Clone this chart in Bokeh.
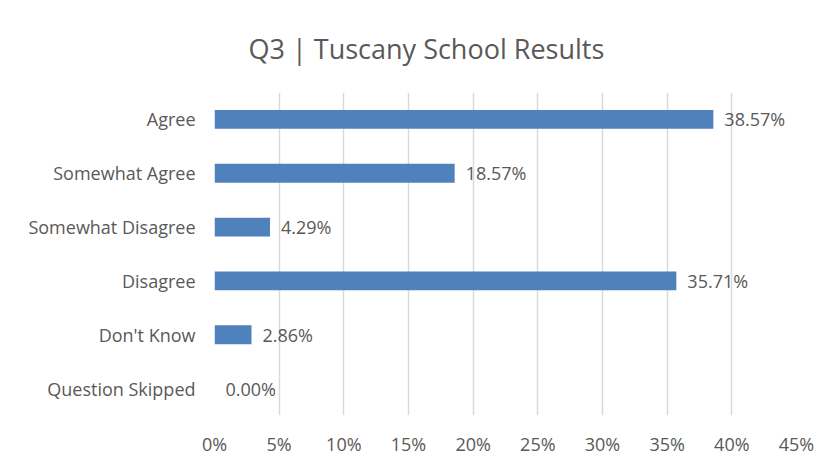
from bokeh.plotting import figure
from bokeh.models import ColumnDataSource, NumeralTickFormatter, FixedTicker
from bokeh.core.properties import value
from bokeh.embed import file_html
from bokeh.resources import INLINE

categories = ["Agree", "Somewhat Agree", "Somewhat Disagree", "Disagree", "Don't Know", "Question Skipped"]
values = [0.3857, 0.1857, 0.0429, 0.3571, 0.0286, 0.0]
labels = ["38.57%", "18.57%", "4.29%", "35.71%", "2.86%", "0.00%"]
x_ticks = [0, 0.05, 0.10, 0.15, 0.20, 0.25, 0.30, 0.35, 0.40, 0.45]

FONT = "Open Sans"
TXT = "#595959"

src = ColumnDataSource(dict(cat=categories, val=values, lab=labels))

p = figure(
    width=838, height=465,
    y_range=list(reversed(categories)),
    x_range=(0, 0.45),
    output_backend="svg", toolbar_location=None,
    min_border_left=214, min_border_right=42,
    min_border_top=92, min_border_bottom=50,
    title="Q3 | Tuscany School Results",
)
p.background_fill_color = "white"
p.border_fill_color = "white"
p.outline_line_color = None

p.title.align = "left"
p.title.offset = 34
p.title.text_font = FONT
p.title.text_font_size = "27px"
p.title.text_font_style = "normal"
p.title.text_color = TXT
p.title.vertical_align = "bottom"
p.title.standoff = 51

p.hbar(y="cat", right="val", left=0, height=0.35, source=src,
       fill_color="#4f81bd", line_color=None)

p.text(x="val", y="cat", text="lab", source=src, x_offset=11,
       text_align="left", text_baseline="middle",
       text_font=value(FONT), text_font_size="18px", text_color=TXT)

p.xaxis.ticker = FixedTicker(ticks=x_ticks)
p.xaxis.formatter = NumeralTickFormatter(format="0%")
for ax in (p.xaxis, p.yaxis):
    ax.axis_line_color = None
    ax.major_tick_line_color = None
    ax.minor_tick_line_color = None
    ax.major_tick_out = 0
    ax.major_tick_in = 0
    ax.major_label_text_font = FONT
    ax.major_label_text_font_size = "18px"
    ax.major_label_text_color = TXT
p.xaxis.major_label_standoff = 16
p.yaxis.major_label_standoff = 19

p.xgrid.grid_line_color = "#d9d9d9"
p.xgrid.grid_line_width = 1.5
p.ygrid.grid_line_color = None

open("out.html", "w").write(file_html(p, INLINE))
